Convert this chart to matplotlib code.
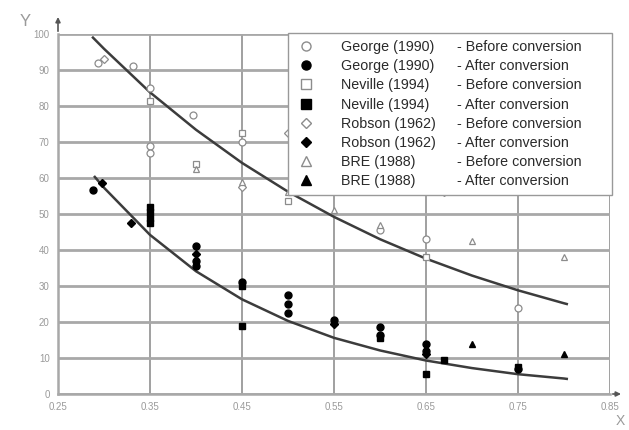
"""Before/after conversion scatter with two fitted decay curves."""
import matplotlib
matplotlib.use("Agg")
import matplotlib.pyplot as plt
from matplotlib.lines import Line2D

plt.rcParams["font.family"] = ["Liberation Sans", "DejaVu Sans"]

# ---- data ----
X_TICKS = [0.25, 0.35, 0.45, 0.55, 0.65, 0.75, 0.85]
Y_TICKS = [0, 10, 20, 30, 40, 50, 60, 70, 80, 90, 100]

# fitted trend lines
upper_x = [0.288, 0.30, 0.35, 0.40, 0.45, 0.50, 0.55, 0.60, 0.65, 0.70, 0.75, 0.80, 0.803]
upper_y = [99.0, 95.9, 83.8, 73.4, 64.2, 56.2, 49.2, 43.0, 37.6, 32.9, 28.8, 25.2, 25.0]
lower_x = [0.29, 0.30, 0.35, 0.40, 0.45, 0.50, 0.55, 0.60, 0.65, 0.70, 0.75, 0.80, 0.803]
lower_y = [60.3, 57.3, 44.2, 34.1, 26.3, 20.3, 15.6, 12.1, 9.3, 7.2, 5.5, 4.3, 4.2]

# before conversion (open markers)
george_b_x = [0.293, 0.331, 0.35, 0.35, 0.35, 0.397, 0.45, 0.60, 0.65, 0.75]
george_b_y = [92.0, 91.0, 85.0, 69.0, 67.0, 77.5, 70.0, 45.5, 43.0, 24.0]
neville_b_x = [0.35, 0.40, 0.45, 0.50, 0.65]
neville_b_y = [81.5, 64.0, 72.5, 53.5, 38.0]
robson_b_x = [0.30, 0.45, 0.50, 0.67]
robson_b_y = [93.0, 57.5, 72.5, 56.0]
bre_b_x = [0.40, 0.45, 0.50, 0.55, 0.60, 0.70, 0.80]
bre_b_y = [62.5, 59.0, 56.0, 51.0, 47.0, 42.5, 38.0]

# after conversion (filled markers)
george_a_x = [0.288, 0.40, 0.40, 0.40, 0.45, 0.50, 0.50, 0.50, 0.55, 0.60, 0.60, 0.65, 0.65, 0.75]
george_a_y = [56.7, 41.0, 37.0, 35.5, 31.0, 27.5, 25.0, 22.5, 20.5, 18.5, 16.5, 14.0, 12.0, 7.0]
neville_a_x = [0.35, 0.35, 0.35, 0.35, 0.45, 0.45, 0.60, 0.65, 0.67, 0.75]
neville_a_y = [52.0, 50.5, 49.0, 47.5, 30.0, 19.0, 15.5, 5.5, 9.5, 7.5]
robson_a_x = [0.298, 0.329, 0.40, 0.55, 0.65]
robson_a_y = [58.5, 47.5, 39.0, 19.5, 11.0]
bre_a_x = [0.70, 0.80]
bre_a_y = [14.0, 11.2]

names = ["George (1990)", "George (1990)", "Neville (1994)", "Neville (1994)",
         "Robson (1962)", "Robson (1962)", "BRE (1988)", "BRE (1988)"]
phases = ["- Before conversion", "- After conversion"] * 4

OPEN = "#8c8c8c"
GRID = "#a8a8a8"
FS = 10.3

fig = plt.figure(figsize=(6.29, 4.30), dpi=100)
ax = fig.add_axes([58 / 629, 1 - 394 / 430, 552 / 629, 360 / 430])

ax.set_xlim(0.25, 0.85)
ax.set_ylim(0, 100)
ax.set_xticks(X_TICKS)
ax.set_xticklabels([f"{v:.2f}" for v in X_TICKS])
ax.set_yticks(Y_TICKS)
ax.tick_params(length=0, labelsize=7, labelcolor="#9a9a9a", pad=6)
ax.set_axisbelow(True)
ax.yaxis.grid(True, color=GRID, lw=2.0)
ax.xaxis.grid(True, color="#999999", lw=1.3)
for s in ("top", "right"):
    ax.spines[s].set_visible(False)
for s in ("left", "bottom"):
    ax.spines[s].set_color(GRID)
    ax.spines[s].set_linewidth(1.8)

# axis arrows
ax.annotate("", xy=(0, 1.055), xytext=(0, 1.0), xycoords="axes fraction",
            arrowprops=dict(arrowstyle="-|>", color="#555555", lw=1.2, mutation_scale=7),
            annotation_clip=False)
ax.annotate("", xy=(1.025, 0), xytext=(1.0, 0), xycoords="axes fraction",
            arrowprops=dict(arrowstyle="-|>", color="#555555", lw=1.2, mutation_scale=7),
            annotation_clip=False)
fig.text(20 / 629, 1 - 22 / 430, "Y", fontsize=12, color="#9a9a9a", va="center")
fig.text(620 / 629, 2 / 430, "X", fontsize=10, color="#9a9a9a", va="bottom", ha="center")

# curves
ax.plot(upper_x, upper_y, color="#3c3c3c", lw=1.8, zorder=3)
ax.plot(lower_x, lower_y, color="#3c3c3c", lw=1.8, zorder=3)

# points
ms = 5
open_kw = dict(ls="none", mfc="white", mec=OPEN, mew=0.9, zorder=4)
fill_kw = dict(ls="none", color="black", zorder=4)
ax.plot(george_b_x, george_b_y, "o", ms=ms, **open_kw)
ax.plot(neville_b_x, neville_b_y, "s", ms=ms, **open_kw)
ax.plot(robson_b_x, robson_b_y, "D", ms=ms - 1, **open_kw)
ax.plot(bre_b_x, bre_b_y, "^", ms=ms, **open_kw)
ax.plot(george_a_x, george_a_y, "o", ms=ms, **fill_kw)
ax.plot(neville_a_x, neville_a_y, "s", ms=ms, **fill_kw)
ax.plot(robson_a_x, robson_a_y, "D", ms=ms - 1, **fill_kw)
ax.plot(bre_a_x, bre_a_y, "^", ms=ms, **fill_kw)

# legend: marker + name, second column added as text
lm = 6.5
handles = [
    Line2D([], [], ls="none", marker="o", ms=lm, mfc="white", mec=OPEN, mew=1.0),
    Line2D([], [], ls="none", marker="o", ms=lm, color="black"),
    Line2D([], [], ls="none", marker="s", ms=lm, mfc="white", mec=OPEN, mew=1.0),
    Line2D([], [], ls="none", marker="s", ms=lm, color="black"),
    Line2D([], [], ls="none", marker="D", ms=lm - 1.5, mfc="white", mec=OPEN, mew=1.0),
    Line2D([], [], ls="none", marker="D", ms=lm - 1.5, color="black"),
    Line2D([], [], ls="none", marker="^", ms=lm, mfc="white", mec=OPEN, mew=1.0),
    Line2D([], [], ls="none", marker="^", ms=lm, color="black"),
]
x0 = (288 - 58) / 552
w = (612 - 288) / 552
leg = ax.legend(handles, names, loc="upper left", bbox_to_anchor=(x0, 0.55, w, 0.453),
                mode="expand", borderaxespad=0, fontsize=FS, frameon=True,
                fancybox=False, framealpha=1, edgecolor="#999999",
                handlelength=1.5, handletextpad=1.7, borderpad=0.5, labelspacing=0.36)
leg.get_frame().set_linewidth(1.0)
leg.set_zorder(6)
for t in leg.get_texts():
    t.set_color("#2a2a2a")

fig.canvas.draw()
inv = fig.transFigure.inverted()
for t, ph in zip(leg.get_texts(), phases):
    bb = t.get_window_extent()
    _, yf = inv.transform((0, (bb.y0 + bb.y1) / 2))
    fig.text(457 / 629, yf, ph, fontsize=FS, color="#2a2a2a", va="center", zorder=7)

fig.savefig("out.png", dpi=100)
